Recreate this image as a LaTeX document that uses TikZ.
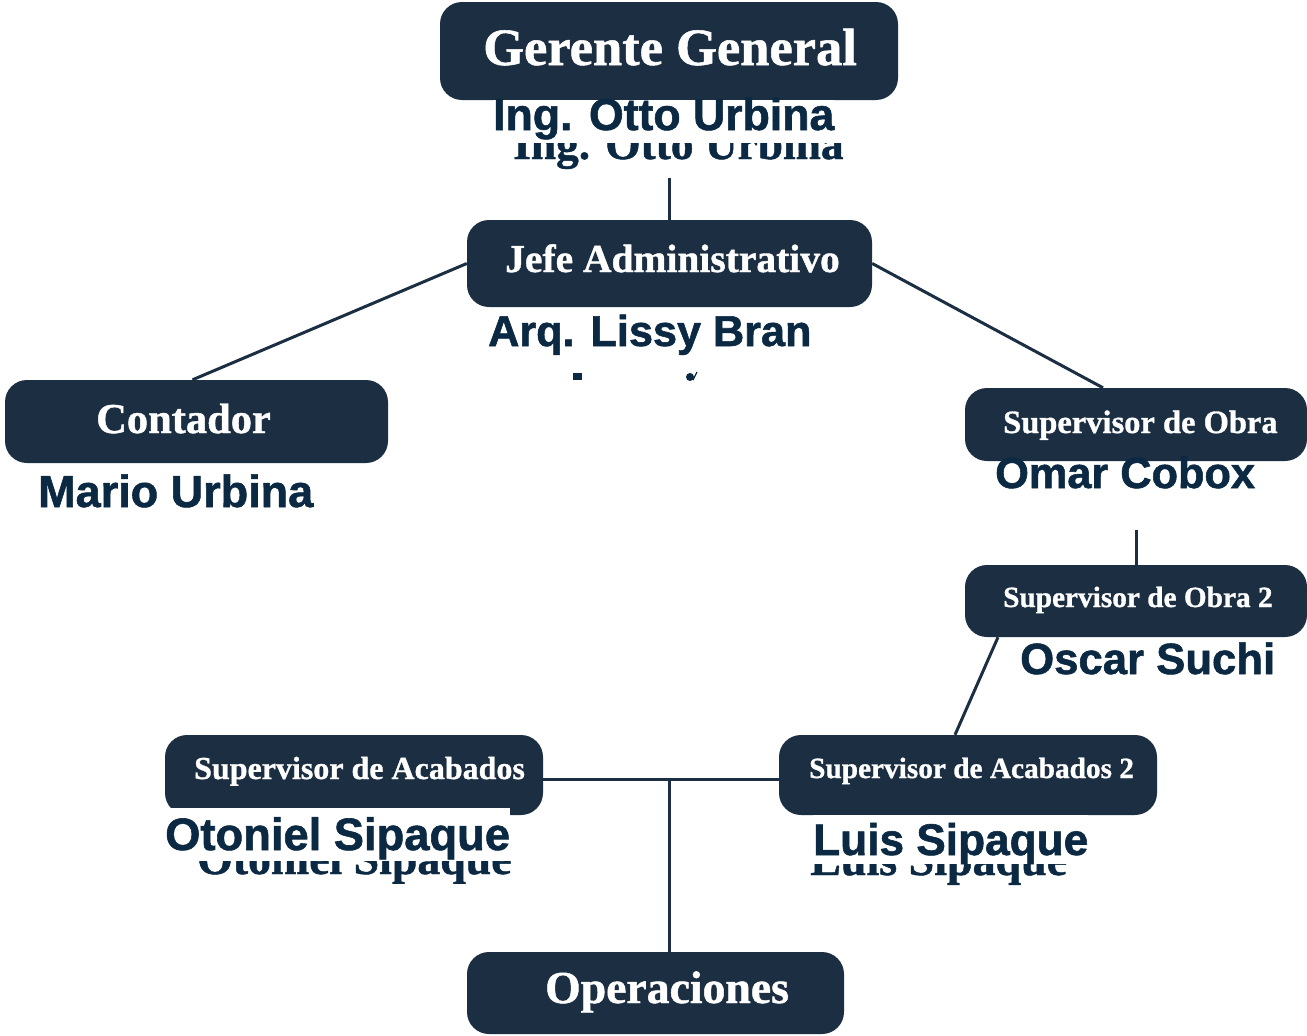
\documentclass[tikz,border=0pt]{standalone}
\usepackage{fontspec}
\newfontfamily\hfont{Liberation Serif}[FakeBold=1.0]
\newfontfamily\nfont{Liberation Sans}[FakeBold=1.3]
\definecolor{navy}{HTML}{1B2E42}
\definecolor{nametxt}{HTML}{0B2942}
\begin{document}
\begin{tikzpicture}[x=1pt,y=-1pt,
  box/.style={draw=none,fill=navy,rounded corners=22pt,inner sep=0pt},
  ttl/.style={text=white,inner sep=0pt,anchor=base west,font=\hfont\bfseries},
  nm/.style={text=nametxt,inner sep=0pt,anchor=base west,font=\nfont\bfseries},
  ghost/.style={text=nametxt,inner sep=0pt,anchor=base west,font=\hfont\bfseries},
  conn/.style={draw=navy,line width=3pt}]
\useasboundingbox (0,0) rectangle (1307,1036);
% coordinates for connector stubs
\coordinate (ggstub) at (669.5,178);
\coordinate (sostub) at (1136,530);
\coordinate (junc) at (669,779);
% boxes
\node[box,minimum width=458pt,minimum height=98pt] (gg) at (669,51) {};
\node[box,minimum width=405pt,minimum height=87pt] (jefe) at (669.5,263.5) {};
\node[box,minimum width=383pt,minimum height=83pt] (cont) at (196.5,421.5) {};
\node[box,minimum width=342pt,minimum height=73pt] (sobra) at (1136,424.5) {};
\node[box,minimum width=342pt,minimum height=72pt] (sobra2) at (1136,601) {};
\node[box,minimum width=378pt,minimum height=80pt] (sacab) at (354,775) {};
\node[box,minimum width=378pt,minimum height=80pt] (sacab2) at (968,775) {};
\node[box,minimum width=377pt,minimum height=82pt] (ops) at (655.5,993) {};
% connectors
\draw[conn] (ggstub) -- (jefe.north);
\draw[conn] (jefe.west) -- ([xshift=-4pt]cont.north);
\draw[conn] (jefe.east) -- ([xshift=-33pt]sobra.north);
\draw[conn] (sostub) -- (sobra2.north);
\draw[conn] ([xshift=-138pt]sobra2.south) -- ([xshift=-13pt]sacab2.north);
\draw[conn] (sacab.east |- junc) -- (sacab2.west |- junc);
\draw[conn] (junc) -- (junc |- ops.north);
% titles
\node[ttl,font=\hfont\bfseries\fontsize{52.5}{53}\selectfont] (gg-t) at (483,65) {Gerente General};
\node[ttl,font=\hfont\bfseries\fontsize{39.5}{40}\selectfont] (jefe-t) at (505,272) {Jefe Administrativo};
\node[ttl,font=\hfont\bfseries\fontsize{42.5}{43}\selectfont] (cont-t) at (96,433) {Contador};
\node[ttl,font=\hfont\bfseries\fontsize{32.5}{33}\selectfont] (sobra-t) at (1003,433) {Supervisor de Obra};
\node[ttl,font=\hfont\bfseries\fontsize{29.3}{30}\selectfont] (sobra2-t) at (1003,607) {Supervisor de Obra 2};
\node[ttl,font=\hfont\bfseries\fontsize{32}{32}\selectfont] (sacab-t) at (194,779) {Supervisor de Acabados};
\node[ttl,font=\hfont\bfseries\fontsize{29.3}{30}\selectfont] (sacab2-t) at (809,778) {Supervisor de Acabados 2};
\node[ttl,font=\hfont\bfseries\fontsize{45.7}{46}\selectfont] (ops-t) at (545,1003) {Operaciones};
% ghost texts (partly hidden)
\begin{scope}
\clip (505,143) rectangle (845,172);
\node[ghost,font=\hfont\bfseries\fontsize{45.4}{46}\selectfont] (gg-g) at (513,159) {Ing. Otto Urbina};
\end{scope}
\begin{scope}
\clip (190,861) rectangle (512,890);
\node[ghost,font=\hfont\bfseries\fontsize{45.8}{46}\selectfont] (sacab-g) at (197,874) {Otoniel Sipaque};
\end{scope}
\begin{scope}
\clip (800,863) rectangle (1070,890);
\node[ghost,font=\hfont\bfseries\fontsize{46}{46}\selectfont] (sacab2-g) at (810,875) {Luis Sipaque};
\end{scope}
\fill[nametxt] (573,373) rectangle (582,380);
\fill[nametxt] (690,377) circle (4pt);
\draw[nametxt,line width=1.2pt] (693,380) -- (697,372);
% names
\node[nm,fill=white,text height=30pt,text depth=11pt,font=\nfont\bfseries\fontsize{44.6}{45}\selectfont] (gg-n) at (493,130) {Ing. Otto Urbina};
\node[nm,font=\nfont\bfseries\fontsize{43.2}{44}\selectfont] (jefe-n) at (488,346) {Arq. Lissy Bran};
\node[nm,font=\nfont\bfseries\fontsize{45}{45}\selectfont] (cont-n) at (38,507) {Mario Urbina};
\node[nm,font=\nfont\bfseries\fontsize{43.3}{44}\selectfont] (sobra-n) at (995,488) {Omar Cobox};
\node[nm,font=\nfont\bfseries\fontsize{43.7}{44}\selectfont] (sobra2-n) at (1020,674) {Oscar Suchi};
\node[nm,fill=white,text height=42pt,text depth=11pt,font=\nfont\bfseries\fontsize{45.3}{46}\selectfont] (sacab-n) at (165,850) {Otoniel Sipaque};
\node[nm,fill=white,text height=40pt,text depth=9pt,font=\nfont\bfseries\fontsize{44.2}{45}\selectfont] (sacab2-n) at (813,855) {Luis Sipaque};
\end{tikzpicture}
\end{document}
